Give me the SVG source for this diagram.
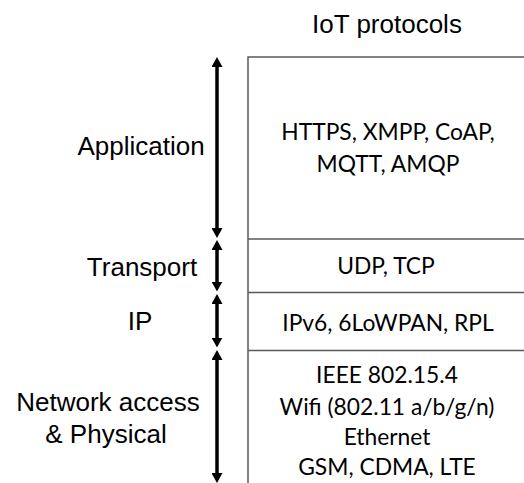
<svg xmlns="http://www.w3.org/2000/svg" width="524" height="483" viewBox="0 0 524 483">
<style>
.lbl{font-family:"Liberation Sans",Arial,sans-serif;font-size:26px;fill:#000;text-anchor:middle}
.proto{font-family:Lato,"Liberation Sans",sans-serif;font-size:22.8px;fill:#000;text-anchor:middle}
.box{fill:none;stroke:#595959;stroke-width:1.5}
.arr{stroke:#000;stroke-width:3.5;fill:none;marker-start:url(#ah);marker-end:url(#ah)}
</style>
<defs>
<marker id="ah" markerUnits="userSpaceOnUse" viewBox="0 0 10 11" refX="2" refY="5.5" markerWidth="10" markerHeight="11" orient="auto-start-reverse">
<path d="M0,0 L10,5.5 L0,11 z" fill="#000"/>
</marker>
</defs>
<rect width="524" height="483" fill="#fff"/>
<text id="title" class="lbl" x="387" y="33">IoT protocols</text>
<g id="stack">
<path class="box" d="M524,57 H248 V483"/>
</g>
<g id="application">
<text class="lbl" x="141" y="155">Application</text>
<text class="proto" x="388" y="140">HTTPS, XMPP, CoAP,</text>
<text class="proto" x="388" y="172">MQTT, AMQP</text>
</g>
<g id="transport">
<path class="box" d="M248,239 H524"/>
<text class="lbl" x="142" y="276">Transport</text>
<text class="proto" x="386" y="274">UDP, TCP</text>
</g>
<g id="ip">
<path class="box" d="M248,292.5 H524"/>
<text class="lbl" x="140" y="330">IP</text>
<text class="proto" x="388" y="331">IPv6, 6LoWPAN, RPL</text>
</g>
<g id="network">
<path class="box" d="M248,350.5 H524"/>
<text class="lbl" x="108" y="411">Network access</text>
<text class="lbl" x="106" y="443">&amp; Physical</text>
<text class="proto" x="387" y="383">IEEE 802.15.4</text>
<text class="proto" x="387" y="415">Wifi (802.11 a/b/g/n)</text>
<text class="proto" x="387" y="445">Ethernet</text>
<text class="proto" x="387" y="475">GSM, CDMA, LTE</text>
</g>
<g id="connectors">
<line class="arr" x1="217" y1="65" x2="217" y2="230"/>
<line class="arr" x1="217" y1="248" x2="217" y2="283.5"/>
<line class="arr" x1="217" y1="302" x2="217" y2="339.5"/>
<line class="arr" x1="217" y1="358" x2="217" y2="475"/>
</g>
</svg>
